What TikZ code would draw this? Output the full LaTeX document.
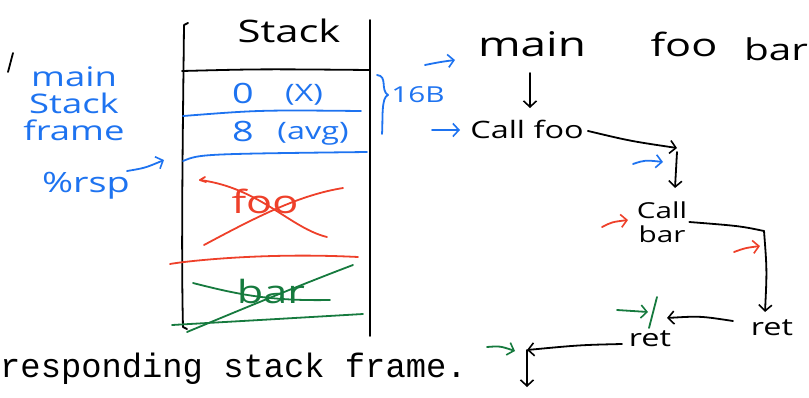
\documentclass[tikz,border=0pt]{standalone}
\usepackage{fontspec}
\setmainfont{Open Sans}
\newfontfamily\handfont[FakeStretch=1.35]{Open Sans}
\newfontfamily\monofont{Liberation Mono}
\usetikzlibrary{arrows.meta}
\definecolor{penblue}{RGB}{30,115,240}
\definecolor{penred}{RGB}{238,64,42}
\definecolor{pengreen}{RGB}{22,122,62}
\tikzset{
  pen/.style={line width=1.8pt, line cap=round, line join=round},
  barb/.style={-{Straight Barb[length=6pt,width=13pt,line width=1.6pt]}},
  hand/.style={inner sep=0pt, font=\handfont\fontsize{#1}{#1}\selectfont},
  hand/.default=28,
}
\begin{document}
\begin{tikzpicture}[x=1pt,y=-1pt]
\useasboundingbox (0,0) rectangle (809,397);

% ---------- stack box ----------
\draw[pen] (188,23) -- (184,25) .. controls (183,120) and (181,250) .. (183,327) -- (187,329);
\draw[pen] (370,20) -- (370,336);
\node[hand=31, anchor=base] (stacktitle) at (289,42) {Stack};
\draw[pen] (182,71) .. controls (260,69) .. (370,70);

% main frame (blue)
\node[hand=28, text=penblue, anchor=base] (v0) at (243,103) {0};
\node[hand=24, text=penblue, anchor=base] (x0) at (304,101) {(X)};
\draw[pen, penblue] (183,116) .. controls (260,110) .. (361,111);
\node[hand=28, text=penblue, anchor=base] (v8) at (243,141) {8};
\node[hand=24, text=penblue, anchor=base] (avg) at (313,139) {(avg)};
\draw[pen, penblue] (183,161) .. controls (200,154) .. (367,152);

% foo frame (red, crossed)
\node[hand=32, text=penred] (foo) at (265,201) {foo};
\draw[pen, penred] (206,182) -- (200,180) -- (205,177);
\draw[pen, penred] (200,180) .. controls (260,188) and (290,228) .. (327,237);
\draw[pen, penred] (204,245) .. controls (260,215) and (300,195) .. (343,188);
\draw[pen, penred] (170,264) .. controls (180,262) and (260,252) .. (358,257);

% bar frame (green, crossed)
\node[hand=32, text=pengreen] (bar) at (271,291) {bar};
\draw[pen, pengreen] (193,283) .. controls (240,295) and (270,301) .. (330,300);
\draw[pen, pengreen] (187,332) .. controls (240,310) and (300,285) .. (353,265);
\draw[pen, pengreen] (172,325) .. controls (260,320) .. (363,314);

% brace and 16B
\draw[pen, penblue] (377,75) .. controls (388,76) and (380,90) .. (388,95)
  .. controls (381,97) and (383,120) .. (382,134);
\node[hand=22, text=penblue] (sixteen) at (418,95) {16B};

% ---------- left labels ----------
\draw[pen] (13,53) -- (8,72);
\node[hand=27, text=penblue, align=center, font=\handfont\fontsize{27}{27}\selectfont] (mainframe) at (74,104) {main\\Stack\\frame};
\node[hand=28, text=penblue] (rsp) at (86,186) {\%rsp};
\coordinate (rspend) at (164,160);
\draw[pen, penblue, barb] (127,171) .. controls (145,168) .. (rspend);

% ---------- right: call flow ----------
\node[hand=34, anchor=base] (fmain) at (532,56) {main};
\node[hand=32, anchor=base] (ffoo) at (684,56) {foo};
\node[hand=30, anchor=base] (fbar) at (776,60) {bar};
\node[hand=24, anchor=base] (callfoo) at (527,138) {Call foo};
\draw[pen, barb] (530,73) -- (530,108);
\draw[pen, penblue, barb] (425,65) .. controls (440,62) .. (455,60);
\draw[pen, penblue, barb] (432,130) -- (460,130);

\node[hand=22, align=center, font=\handfont\fontsize{22}{24}\selectfont] (callbar) at (662,222) {Call\\bar};
\coordinate (c1) at (677,148);
\draw[pen, barb] (callfoo.east) ++(4,2) .. controls (630,141) .. (c1);
\draw[pen, barb] (677,152) -- (675,188);
\draw[pen, penblue, barb] (633,164) .. controls (645,160) .. (663,162);

\draw[pen, penred, barb] (602,227) .. controls (612,222) .. (628,220);
\coordinate (c2) at (764,231);
\node[hand=24, anchor=base] (ret1) at (772,335) {ret};
\draw[pen] (callbar.east) ++(2,0) .. controls (740,226) .. (c2);
\draw[pen, barb] (c2) .. controls (767,270) .. (765,312);
\draw[pen, penred, barb] (734,252) .. controls (745,248) .. (760,246);

\node[hand=24, anchor=base] (ret2) at (650,346) {ret};
\draw[pen, barb] (733,321) .. controls (700,316) .. (667,318);
\draw[pen, pengreen, barb] (617,310) -- (648,312);
\draw[pen, pengreen] (657,297) -- (649,328);

\coordinate (c3) at (527,350);
\draw[pen, barb] (622,344) .. controls (580,345) .. (c3);
\draw[pen, barb] (c3) -- (527,387);
\draw[pen, pengreen, barb] (487,347) .. controls (500,346) .. (515,351);

% ---------- bottom text ----------
\node[inner sep=0pt, anchor=base west, font=\monofont\fontsize{33.8}{34}\selectfont] (caption) at (0,377) {responding stack frame.};
\end{tikzpicture}
\end{document}
